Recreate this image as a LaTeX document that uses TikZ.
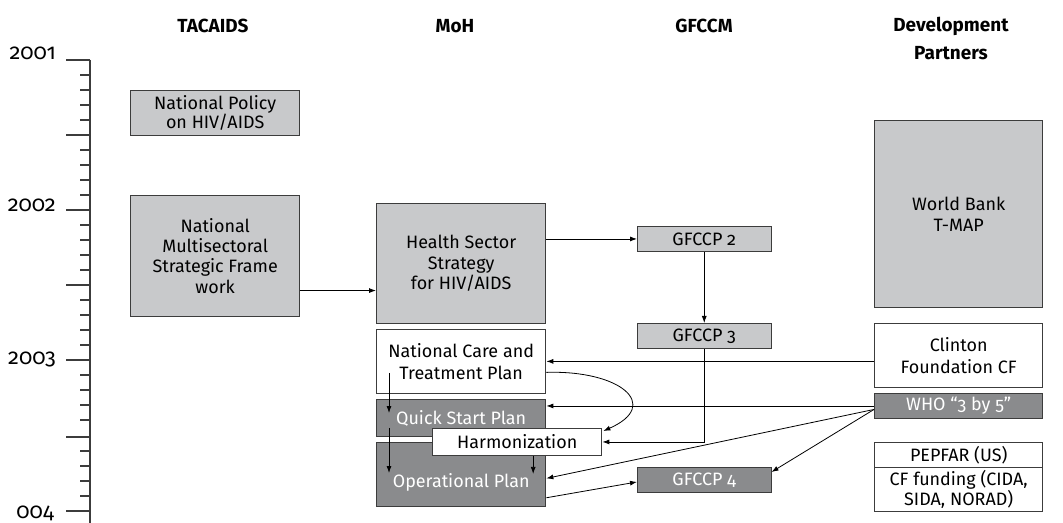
\documentclass[tikz,border=0pt]{standalone}
\usepackage{fontspec}
\setmainfont{Fira Sans}[Numbers=OldStyle]
\usetikzlibrary{arrows.meta,calc}
\definecolor{lightfill}{RGB}{200,201,203}
\definecolor{darkfill}{RGB}{138,139,141}
\definecolor{bordercol}{RGB}{60,60,60}
\begin{document}
\begin{tikzpicture}[x=1bp,y=-1bp,
  box/.style={draw=bordercol, line width=1bp, inner sep=0pt, align=center, anchor=north west,
    font=\fontsize{18}{20.5}\selectfont},
  light/.style={box, fill=lightfill},
  white/.style={box, fill=white},
  dark/.style={box, fill=darkfill, text=white},
  head/.style={font=\fontsize{19}{28}\selectfont\bfseries, inner sep=0pt, align=center},
  year/.style={font=\fontsize{22}{22}\selectfont, inner sep=0pt, anchor=base east},
  conn/.style={line width=0.8bp, -{Latex[length=7bp,width=5bp]}},
  axis/.style={draw=bordercol, line width=1.1bp}
]
\useasboundingbox (0,0) rectangle (1063,523);

% headers
\node[head, anchor=base] (hTAC) at (213,33) {TACAIDS};
\node[head, anchor=base] (hMOH) at (455,33) {MoH};
\node[head, anchor=base] (hGF) at (704,33) {GFCCM};
\node[head, anchor=north] (hDP) at (951,17) {Development\\Partners};

% timeline axis
\draw[axis] (90,60) -- (90,523);
\foreach \y in {60,135,210,285,360,437,511} \draw[axis] (66,\y) -- (90,\y);
\foreach \b in {60,135,210,285,360,436} {
  \foreach \k in {1,2,3,4} \draw[axis] (80,\b+15*\k) -- (90,\b+15*\k);
}
\node[year] (y1) at (56,60) {2001};
\node[year] (y2) at (56,212) {2002};
\node[year] (y3) at (56,365) {2003};
\node[year] (y4) at (54,518) {004};

% TACAIDS column
\node[light, minimum width=170, minimum height=45, font=\fontsize{18}{18}\selectfont] (np) at (130,90) {National Policy\\on HIV/AIDS};
\node[light, minimum width=170, minimum height=121] (ms) at (130,195) {National\\Multisectoral\\Strategic Frame\\work};

% MoH column
\node[light, minimum width=170, minimum height=120] (hs) at (376,203) {Health Sector\\Strategy\\for HIV/AIDS};
\node[white, minimum width=170, minimum height=64, font=\fontsize{18}{22}\selectfont] (ncp) at (376,329) {National Care and\\Treatment Plan};
\node[dark, minimum width=170, minimum height=37] (qs) at (376,399) {Quick Start Plan};
\node[dark, minimum width=170, minimum height=64, text height=30bp, text depth=4bp] (op) at (376,442) {Operational Plan};
\node[white, minimum width=170, minimum height=27] (harm) at (432,428) {Harmonization};

% GFCCM column
\node[light, minimum width=134, minimum height=25] (gf2) at (637,226) {GFCCP 2};
\node[light, minimum width=134, minimum height=25] (gf3) at (637,323) {GFCCP 3};
\node[dark, minimum width=134, minimum height=25] (gf4) at (637,467) {GFCCP 4};

% Development partners column
\node[light, minimum width=169, minimum height=188] (wb) at (874,120) {World Bank\\T-MAP};
\node[white, minimum width=169, minimum height=64, font=\fontsize{18}{22}\selectfont] (cf) at (874,323) {Clinton\\Foundation CF};
\node[dark, minimum width=169, minimum height=25] (who) at (874,393) {WHO “3 by 5”};
\node[white, minimum width=169, minimum height=25] (pep) at (874,442) {PEPFAR (US)};
\node[white, minimum width=169, minimum height=44, font=\fontsize{18}{18}\selectfont] (cff) at (874,467) {CF funding (CIDA,\\SIDA, NORAD)};

% connectors
\coordinate (msout) at ($(ms.south east)+(0,-26)$);
\draw[conn] (msout) -- (msout -| hs.west);
\draw[conn] (hs.east |- gf2.west) -- (gf2.west);
\draw[conn] (gf2.south) -- (gf3.north);
\draw[conn] (gf3.south) |- (harm.east);
\draw[conn] (cf.west |- ncp.east) -- (ncp.east);
\draw[conn] (who.west) -- (who.west -| qs.east);
\coordinate (whoout) at ($(who.west)+(0,3.5)$);
\draw[conn] (whoout) -- ($(op.east)+(0,4)$);
\draw[conn] (whoout) -- ($(gf4.north east)+(0,5)$);
\draw[conn] ($(op.south east)+(0,-9)$) -- ($(gf4.west)+(0,2)$);
\draw[conn] ($(ncp.east)+(0,11)$) .. controls (620,370) and (662,405) .. ($(harm.north east)+(1,3)$);
\draw[conn] ($(ncp.south west)+(13,-21)$) -- ($(qs.north west)+(13,14)$);
\draw[conn] ($(qs.south west)+(13,-9)$) -- ($(op.north west)+(13,31)$);
\draw[conn] ($(harm.south)+(16,0)$) -- ($(harm.south)+(16,18)$);
\end{tikzpicture}
\end{document}
